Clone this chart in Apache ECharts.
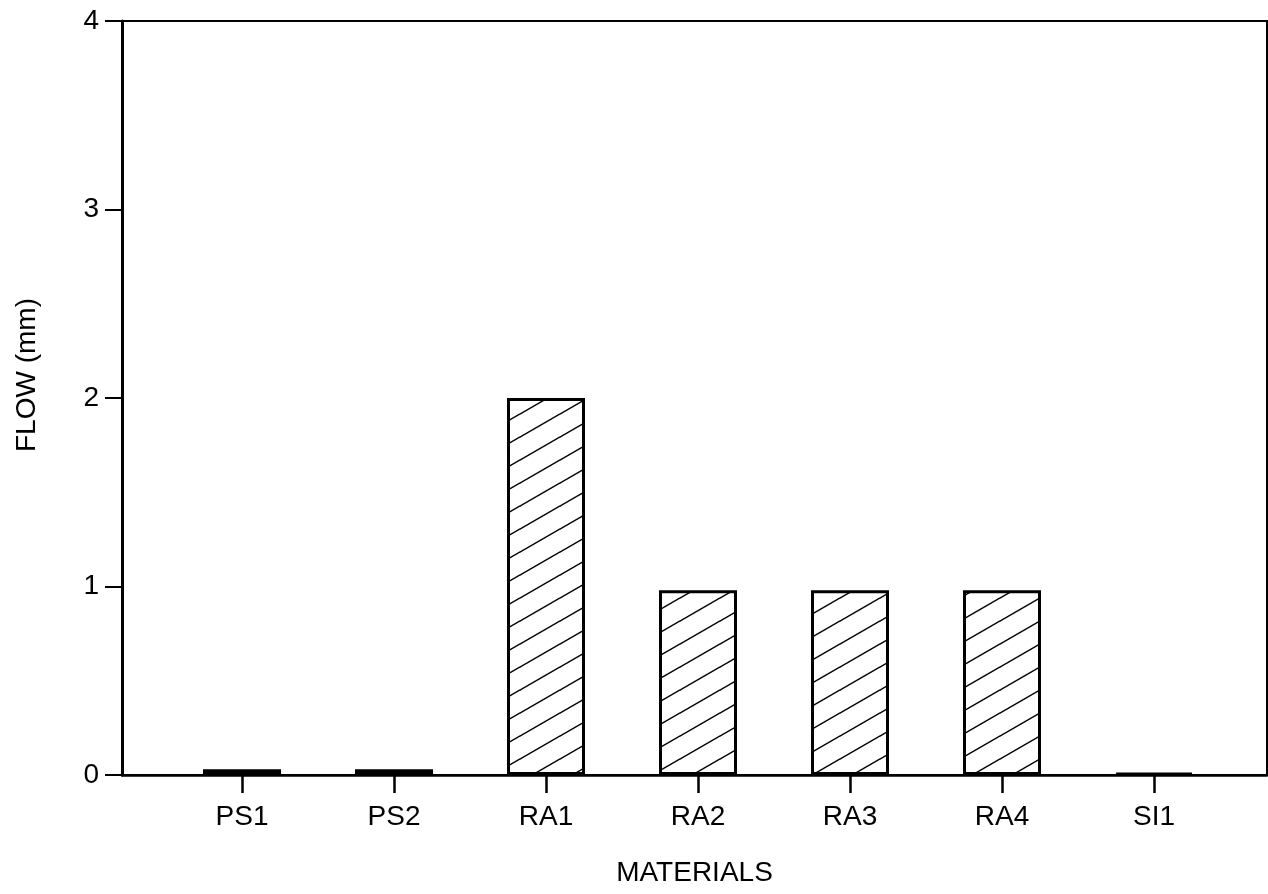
<!DOCTYPE html>
<html>
<head>
<meta charset="utf-8">
<script src="https://cdn.jsdelivr.net/npm/echarts@6/dist/echarts.min.js"></script>
<style>
html,body{margin:0;padding:0;background:#fff;}
#chart{width:1268px;height:894px;}
</style>
</head>
<body>
<div id="chart"></div>
<script>
var categories = ['PS1', 'PS2', 'RA1', 'RA2', 'RA3', 'RA4', 'SI1'];
var flowValues = [0.03, 0.03, 2.0, 0.98, 0.98, 0.98, 0.01];
var yTicks = [0, 1, 2, 3, 4];

// hatch pattern tile (diagonal "/" lines)
function makeHatch() {
  var W = 40, H = 23;
  var c = document.createElement('canvas');
  c.width = W; c.height = H;
  var g = c.getContext('2d');
  g.fillStyle = '#fff';
  g.fillRect(0, 0, W, H);
  g.strokeStyle = '#000';
  g.lineWidth = 1.5;
  for (var dx = -1; dx <= 1; dx++) {
    for (var dy = -1; dy <= 1; dy++) {
      g.beginPath();
      g.moveTo(dx * W, H + dy * H);
      g.lineTo(W + dx * W, dy * H);
      g.stroke();
    }
  }
  return c;
}

var font = 'Liberation Sans, Arial, sans-serif';
var chart = echarts.init(document.getElementById('chart'), null, {renderer: 'canvas'});
chart.setOption({
  backgroundColor: '#fff',
  animation: false,
  grid: [
    {left: 166, right: 38, top: 21, bottom: 119},
    {left: 122, right: 1, top: 21, bottom: 119, show: true, borderColor: '#000', borderWidth: 2, backgroundColor: 'transparent'}
  ],
  xAxis: [
    {
      gridIndex: 0, type: 'category', data: categories,
      axisLine: {show: false},
      axisTick: {show: true, alignWithLabel: true, length: 18, lineStyle: {color: '#000', width: 2.5}},
      axisLabel: {color: '#000', fontSize: 28, fontFamily: font, margin: 28},
      splitLine: {show: false}
    },
    {
      gridIndex: 1, type: 'value', min: 0, max: 1,
      axisLine: {show: true, onZero: false, lineStyle: {color: '#000', width: 2.5}},
      axisTick: {show: false}, axisLabel: {show: false}, splitLine: {show: false},
      name: 'MATERIALS', nameLocation: 'middle', nameGap: 84,
      nameTextStyle: {color: '#000', fontSize: 28, fontFamily: font}
    }
  ],
  yAxis: [
    {gridIndex: 0, type: 'value', min: 0, max: 4, interval: 1, show: false},
    {
      gridIndex: 1, type: 'value', min: yTicks[0], max: yTicks[yTicks.length - 1], interval: 1,
      axisLine: {show: true, lineStyle: {color: '#000', width: 3}},
      axisTick: {show: true, inside: false, length: 17, lineStyle: {color: '#000', width: 2}},
      axisLabel: {color: '#000', fontSize: 28, fontFamily: font, margin: 23},
      splitLine: {show: false},
      name: 'FLOW (mm)', nameLocation: 'middle', nameGap: 81,
      nameTextStyle: {color: '#000', fontSize: 28, fontFamily: font, padding: [0, 0, 0, 46]}
    }
  ],
  series: [{
    type: 'bar', xAxisIndex: 0, yAxisIndex: 0,
    data: flowValues,
    barWidth: 78,
    itemStyle: {
      color: {image: makeHatch(), repeat: 'repeat'},
      borderColor: '#000', borderWidth: 3
    }
  }]
});
</script>
</body>
</html>
